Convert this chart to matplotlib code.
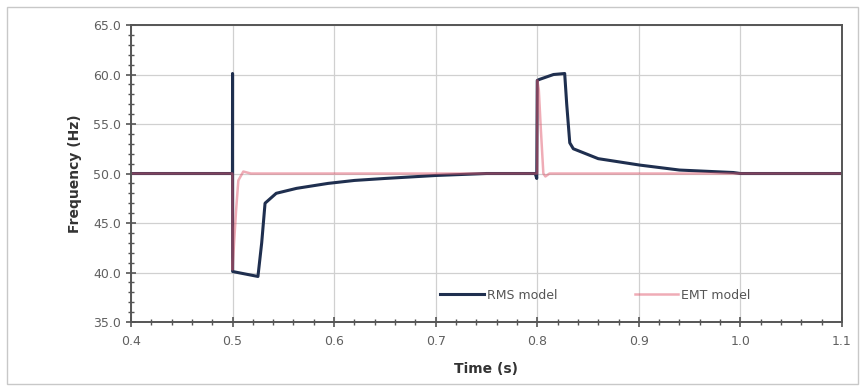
import matplotlib
matplotlib.use('Agg')
import matplotlib.pyplot as plt
from matplotlib.ticker import MultipleLocator, FormatStrFormatter
from matplotlib.patches import Rectangle

# RMS model points (time s, frequency Hz)
rms_t = [0.4, 0.4999, 0.5, 0.5001, 0.505, 0.515, 0.525, 0.5287, 0.532, 0.543, 0.563,
         0.594, 0.62, 0.65, 0.7, 0.75, 0.798, 0.7995, 0.8, 0.802, 0.816, 0.827, 0.829,
         0.832, 0.8355, 0.86, 0.901, 0.94, 0.993, 1.0, 1.1]
rms_f = [50.0, 50.0, 60.1, 40.1, 40.0, 39.8, 39.6, 43.0, 47.0, 48.0, 48.5,
         49.0, 49.3, 49.5, 49.8, 50.0, 50.0, 49.5, 59.4, 59.5, 60.0, 60.1, 57.0,
         53.1, 52.5, 51.5, 50.85, 50.35, 50.1, 50.0, 50.0]

# EMT model points
emt_t = [0.4, 0.4999, 0.5, 0.5015, 0.5035, 0.5057, 0.5106, 0.518, 0.7999, 0.8,
         0.8015, 0.8034, 0.806, 0.808, 0.812, 1.1]
emt_f = [50.0, 50.0, 40.3, 43.0, 46.3, 49.3, 50.2, 50.0, 50.0, 59.4,
         58.5, 54.7, 50.0, 49.7, 50.0, 50.0]

fig = plt.figure(figsize=(8.64, 3.86), dpi=100)
fig.patches.append(Rectangle((0.008, 0.005), 0.985, 0.978, transform=fig.transFigure,
                             fill=False, edgecolor='#c8c8c8', linewidth=1))
ax = fig.add_axes([0.1516, 0.1658, 0.8229, 0.7694])

ax.plot(rms_t, rms_f, color='#1f2f4f', lw=2.2, label='RMS model')
ax.plot(emt_t, emt_f, color='#e05a6e', lw=1.8, alpha=0.5, label='EMT model')

ax.set_xlim(0.4, 1.1)
ax.set_ylim(35, 65)
ax.xaxis.set_major_locator(MultipleLocator(0.1))
ax.xaxis.set_minor_locator(MultipleLocator(0.02))
ax.yaxis.set_major_locator(MultipleLocator(5))
ax.yaxis.set_minor_locator(MultipleLocator(1))
ax.xaxis.set_major_formatter(FormatStrFormatter('%.1f'))
ax.yaxis.set_major_formatter(FormatStrFormatter('%.1f'))
ax.grid(True, which='major', color='#d0d0d0', lw=0.9)
ax.set_axisbelow(True)

for s in ax.spines.values():
    s.set_color('#555555')
    s.set_linewidth(1.4)
ax.tick_params(which='both', direction='inout', color='#555555', labelcolor='#606060',
               labelsize=9)
ax.tick_params(which='major', length=7, width=1.2)
ax.tick_params(which='minor', length=5, width=1)
ax.tick_params(axis='x', pad=6)

ax.set_xlabel('Time (s)', fontsize=10, fontweight='bold', color='#333333', labelpad=10)
ax.set_ylabel('Frequency (Hz)', fontsize=10, fontweight='bold', color='#333333', labelpad=8)

leg = ax.legend(loc='lower center', bbox_to_anchor=(0.653, 0.03), ncol=2, frameon=False,
                fontsize=9, handlelength=3.5, handletextpad=0.2, columnspacing=6.2)
for t in leg.get_texts():
    t.set_color('#555555')

fig.savefig('out.png', dpi=100)
